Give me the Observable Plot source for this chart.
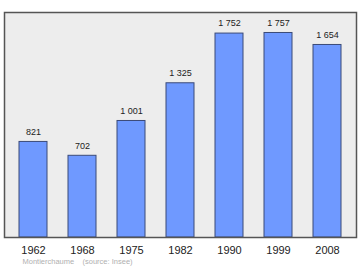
<!DOCTYPE html>
<html>
<head>
<meta charset="utf-8">
<script src="https://cdn.jsdelivr.net/npm/d3@7"></script>
<script src="https://cdn.jsdelivr.net/npm/@observablehq/plot@0.6"></script>
<style>
  html, body { margin: 0; padding: 0; background: #fff; }
</style>
</head>
<body>
<div id="chart"></div>
<script>
const years = ["1962", "1968", "1975", "1982", "1990", "1999", "2008"];
const population = [821, 702, 1001, 1325, 1752, 1757, 1654];
const labels = ["821", "702", "1 001", "1 325", "1 752", "1 757", "1 654"];
const caption = "Montierchaume\u00a0\u00a0\u00a0\u00a0(source: Insee)";

const data = years.map((y, i) => ({year: y, pop: population[i], label: labels[i]}));

const chart = Plot.plot({
  width: 360,
  height: 270,
  marginTop: 12,
  marginBottom: 33,
  marginLeft: 4,
  marginRight: 4,
  style: {fontFamily: "'Liberation Sans', Arial, sans-serif", background: "#fff"},
  x: {domain: years, paddingInner: 0.43, paddingOuter: 0.3, label: null},
  y: {domain: [0, 1933], axis: null},
  marks: [
    Plot.frame({fill: "#ededed", stroke: null}),
    Plot.barY(data, {x: "year", y: "pop", fill: "#6f99ff", stroke: "#3b4a78", strokeWidth: 1}),
    Plot.text(data, {x: "year", y: "pop", text: "label", dy: -10, fontSize: 9, fill: "#222"}),
    Plot.frame({stroke: "#555", strokeWidth: 1.5}),
    Plot.axisX({tickSize: 0, tickPadding: 9, fontSize: 11, fill: "#222", label: null}),
    Plot.text([caption], {frameAnchor: "bottom-left", dx: 18, dy: 26, text: d => d, textAnchor: "start", fontSize: 7.5, fill: "#b0b0b0"})
  ]
});
document.getElementById("chart").appendChild(chart);
</script>
</body>
</html>
